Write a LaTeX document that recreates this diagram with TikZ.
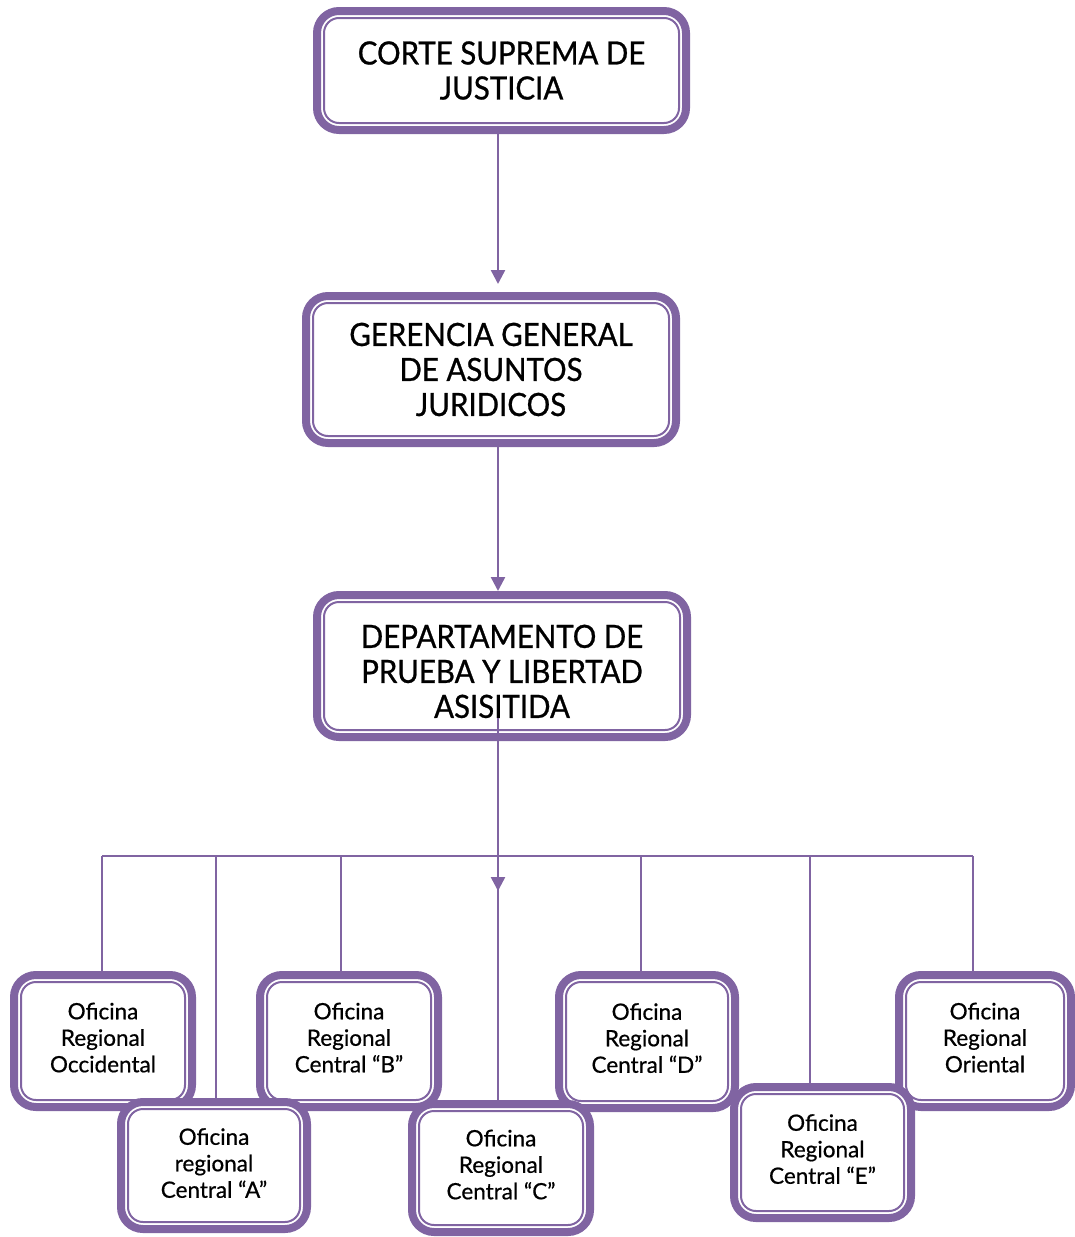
\documentclass[tikz,border=0pt]{standalone}
\usepackage{fontspec}
\setmainfont{Lato}[FakeBold=0.6]
\newfontfamily\capsfont{Lato}[FakeStretch=0.92, FakeBold=0.8]
\usetikzlibrary{arrows.meta}

\definecolor{orgpurple}{HTML}{8064A2}

\tikzset{
  orgbox/.style={draw=orgpurple, line width=8pt, rounded corners=22pt, fill=white,
    align=center, inner sep=0pt,
    path picture={\draw[orgpurple, line width=2pt, rounded corners=15pt]
      ([shift={(7pt,7pt)}]path picture bounding box.south west) rectangle
      ([shift={(-7pt,-7pt)}]path picture bounding box.north east);}},
  bigbox/.style={orgbox, font=\capsfont\fontsize{32}{35}\selectfont},
  smallbox/.style={orgbox, font=\fontsize{22.5}{26.5}\selectfont},
  link/.style={draw=orgpurple, line width=2.5pt},
  tip/.style={-{Triangle[length=14pt,width=14pt]}}
}

\begin{document}
\begin{tikzpicture}[x=1pt,y=-1pt]
  \useasboundingbox (0,0) rectangle (1075,1237);

  % upper chain
  \node[bigbox, minimum width=369pt, minimum height=119pt] (corte) at (501.5,70.5)
    {CORTE SUPREMA DE\\JUSTICIA};
  \node[bigbox, minimum width=370pt, minimum height=147pt] (gerencia) at (491,369.5)
    {GERENCIA GENERAL\\DE ASUNTOS\\JURIDICOS};
  \node[bigbox, minimum width=370pt, minimum height=142pt] (depto) at (502,666)
    {\rule{0pt}{34pt}DEPARTAMENTO DE\\PRUEBA Y LIBERTAD\\ASISITIDA};

  % regional offices, back row
  \node[smallbox, minimum width=178pt, minimum height=132pt] (occ) at (103,1041)
    {Oficina\\Regional\\Occidental\rule[-7pt]{0pt}{0pt}};
  \node[smallbox, minimum width=178pt, minimum height=132pt] (ofb) at (349,1041)
    {Oficina\\Regional\\Central “B”\rule[-7pt]{0pt}{0pt}};
  \node[smallbox, minimum width=176pt, minimum height=133pt] (ofd) at (647,1041.5)
    {Oficina\\Regional\\Central “D”\rule[-7pt]{0pt}{0pt}};
  \node[smallbox, minimum width=172pt, minimum height=132pt] (ori) at (985,1041)
    {Oficina\\Regional\\Oriental\rule[-7pt]{0pt}{0pt}};

  % regional offices, front row
  \node[smallbox, minimum width=186pt, minimum height=127pt] (ofa) at (214,1165.5)
    {Oficina\\regional\\Central “A”\rule[-5pt]{0pt}{0pt}};
  \node[smallbox, minimum width=178pt, minimum height=128pt] (ofc) at (501,1168)
    {Oficina\\Regional\\Central “C”\rule[-7pt]{0pt}{0pt}};
  \node[smallbox, minimum width=177pt, minimum height=131pt] (ofe) at (822.5,1152.5)
    {Oficina\\Regional\\Central “E”\rule[-7pt]{0pt}{0pt}};

  % connectors
  \draw[link, tip, shorten >=8pt] (498,0 |- corte.south) -- (498,0 |- gerencia.north);
  \draw[link, tip] (498,0 |- gerencia.south) -- (498,0 |- depto.north);

  \coordinate (dout) at (498,718);
  \coordinate (hub) at (498,891);
  \draw[link, tip] (dout) -- (hub);
  \draw[link] ([yshift=12pt]hub) -- (498,0 |- ofc.north);

  \coordinate (busL) at (102,856);
  \coordinate (busR) at (973,856);
  \draw[link] (busL) -- (busR);
  \foreach \x/\n in {102/occ, 216/ofa, 341/ofb, 641/ofd, 810/ofe, 973/ori}
    \draw[link] (\x,856) -- (\x,0 |- \n.north);
\end{tikzpicture}
\end{document}
